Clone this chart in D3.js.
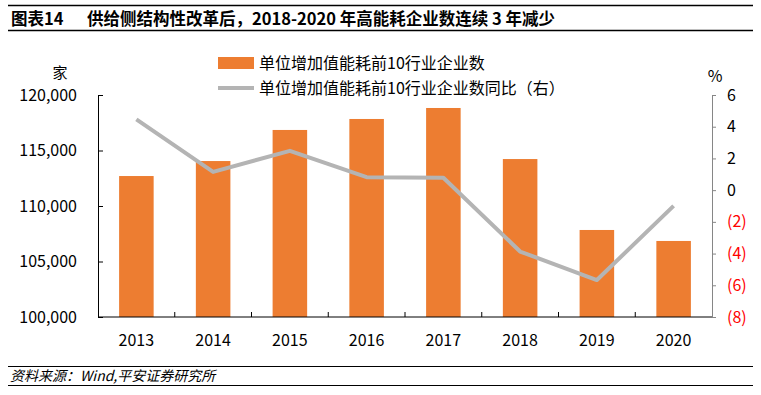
<!DOCTYPE html>
<html>
<head>
<meta charset="utf-8">
<script src="https://cdn.jsdelivr.net/npm/d3@7"></script>
<style>
  body { margin: 0; background: #fff; }
  svg { display: block; font-family: "Noto Sans CJK SC", "Noto Sans", sans-serif; }
</style>
</head>
<body>
<svg width="761" height="395"></svg>
<script>
const years = ["2013", "2014", "2015", "2016", "2017", "2018", "2019", "2020"];
const companies = [112700, 114050, 116850, 117840, 118830, 114230, 107840, 106850];
const yoy = [4.46, 1.15, 2.48, 0.82, 0.78, -3.87, -5.67, -0.99];
const leftTicks = [100000, 105000, 110000, 115000, 120000];
const rightTicks = [-8, -6, -4, -2, 0, 2, 4, 6];

const barName = "单位增加值能耗前10行业企业数";
const lineName = "单位增加值能耗前10行业企业数同比（右）";

const svg = d3.select("svg");
const margin = { left: 98, right: 712, top: 95, bottom: 317 };

const x = d3.scaleBand().domain(years).range([margin.left, margin.right]).paddingInner(0.55).paddingOuter(0.275);
const xb = d3.scaleBand().domain(years).range([margin.left, margin.right]);
const yL = d3.scaleLinear().domain([100000, 120000]).range([margin.bottom, margin.top]);
const yR = d3.scaleLinear().domain([-8, 6]).range([margin.bottom, margin.top]);

// title
svg.append("line").attr("x1", 8).attr("x2", 753).attr("y1", 5.5).attr("y2", 5.5).attr("stroke", "#000").attr("stroke-width", 1.5);
svg.append("line").attr("x1", 8).attr("x2", 753).attr("y1", 30.5).attr("y2", 30.5).attr("stroke", "#000").attr("stroke-width", 1.5);
svg.append("text").attr("x", 11).attr("y", 25).attr("font-size", 16.5).attr("font-weight", "bold").text("图表14");
svg.append("text").attr("x", 87).attr("y", 25).attr("font-size", 16.5).attr("font-weight", "bold")
  .text("供给侧结构性改革后，2018-2020 年高能耗企业数连续 3 年减少");

// source
svg.append("line").attr("x1", 8).attr("x2", 753).attr("y1", 366.5).attr("y2", 366.5).attr("stroke", "#000").attr("stroke-width", 1);
svg.append("line").attr("x1", 8).attr("x2", 753).attr("y1", 385.5).attr("y2", 385.5).attr("stroke", "#000").attr("stroke-width", 1);
svg.append("text").attr("x", 10).attr("y", 381).attr("font-size", 14).attr("font-style", "italic")
  .text("资料来源：Wind,平安证券研究所");

// bars
svg.append("g").selectAll("rect")
  .data(years)
  .join("rect")
  .attr("x", d => x(d))
  .attr("width", x.bandwidth())
  .attr("y", (d, i) => yL(companies[i]))
  .attr("height", (d, i) => margin.bottom - yL(companies[i]))
  .attr("fill", "#ED7D31");

// line
const line = d3.line()
  .x((d, i) => xb(years[i]) + xb.bandwidth() / 2)
  .y(d => yR(d));
svg.append("path")
  .datum(yoy)
  .attr("d", line)
  .attr("fill", "none")
  .attr("stroke", "#B4B4B4")
  .attr("stroke-width", 4)
  .attr("stroke-linejoin", "round");

// left axis
const leftAxis = svg.append("g")
  .attr("transform", `translate(${margin.left},0)`)
  .call(d3.axisRight(yL).tickValues(leftTicks).tickSize(5).tickFormat(""));
leftAxis.select(".domain").attr("stroke", "#000");
leftAxis.selectAll(".tick line").attr("stroke", "#000");
svg.append("g").selectAll("text")
  .data(leftTicks)
  .join("text")
  .attr("x", 77)
  .attr("y", d => yL(d))
  .attr("dy", "0.35em")
  .attr("text-anchor", "end")
  .attr("font-size", 16)
  .attr("fill", "#000")
  .text(d => d3.format(",")(d));

// right axis
const rightAxis = svg.append("g")
  .attr("transform", `translate(${margin.right},0)`)
  .call(d3.axisRight(yR).tickValues(rightTicks).tickSize(4).tickFormat(""));
rightAxis.select(".domain").attr("stroke", "#868686");
rightAxis.selectAll(".tick line").attr("stroke", "#868686");
svg.append("g").selectAll("text")
  .data(rightTicks)
  .join("text")
  .attr("x", 727)
  .attr("y", d => yR(d))
  .attr("dy", "0.35em")
  .attr("font-size", 16)
  .attr("fill", d => d < 0 ? "#FF0000" : "#000")
  .text(d => d < 0 ? `(${-d})` : d);

// x axis
svg.append("line").attr("x1", margin.left).attr("x2", margin.right)
  .attr("y1", margin.bottom).attr("y2", margin.bottom).attr("stroke", "#000").attr("stroke-width", 1);
svg.append("g").selectAll("line")
  .data(years.slice(1))
  .join("line")
  .attr("x1", d => xb(d)).attr("x2", d => xb(d))
  .attr("y1", margin.bottom).attr("y2", margin.bottom - 5)
  .attr("stroke", "#000");
svg.append("g").selectAll("text")
  .data(years)
  .join("text")
  .attr("x", d => xb(d) + xb.bandwidth() / 2)
  .attr("y", 346)
  .attr("text-anchor", "middle")
  .attr("font-size", 16)
  .text(d => d);

// unit labels
svg.append("text").attr("x", 60).attr("y", 78).attr("text-anchor", "middle").attr("font-size", 15).text("家");
svg.append("text").attr("x", 715).attr("y", 82).attr("text-anchor", "middle").attr("font-size", 16).text("%");

// legend
svg.append("rect").attr("x", 218).attr("y", 57).attr("width", 36).attr("height", 12).attr("fill", "#ED7D31");
svg.append("text").attr("x", 259).attr("y", 63).attr("dy", "0.35em").attr("font-size", 16).text(barName);
svg.append("line").attr("x1", 218).attr("x2", 254).attr("y1", 88).attr("y2", 88).attr("stroke", "#B4B4B4").attr("stroke-width", 4);
svg.append("text").attr("x", 259).attr("y", 88).attr("dy", "0.35em").attr("font-size", 16).text(lineName);
</script>
</body>
</html>
